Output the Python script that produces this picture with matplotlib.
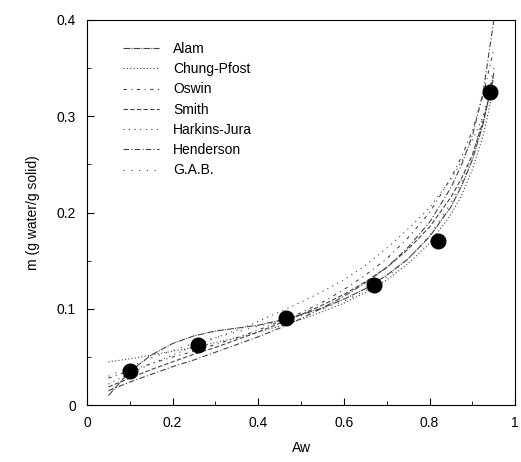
import matplotlib
matplotlib.use('Agg')
import matplotlib.pyplot as plt

# Experimental points
aw_exp = [0.10, 0.26, 0.465, 0.67, 0.82, 0.94]
m_exp = [0.035, 0.062, 0.091, 0.125, 0.170, 0.325]

# Model curves
aw_fit = [0.05, 0.10, 0.15, 0.20, 0.25, 0.30, 0.35, 0.40, 0.45, 0.50, 0.55,
          0.60, 0.65, 0.70, 0.75, 0.80, 0.85, 0.875, 0.90, 0.925, 0.95]
m_alam = [.010, .035, .052, .064, .072, .077, .080, .083, .088, .094, .101,
          .110, .121, .135, .152, .175, .206, .228, .255, .292, .345]
m_chung = [.045, .048, .052, .056, .060, .065, .070, .076, .082, .089, .097,
           .106, .117, .130, .147, .168, .198, .218, .245, .280, .330]
m_oswin = [.028, .036, .043, .050, .056, .063, .070, .078, .087, .096, .107,
           .120, .135, .152, .174, .200, .236, .258, .285, .322, .370]
m_smith = [.019, .028, .037, .045, .053, .060, .068, .076, .085, .094, .104,
           .115, .128, .143, .162, .185, .216, .236, .260, .295, .340]
m_harkins = [.022, .033, .043, .052, .061, .070, .078, .087, .097, .107, .118,
             .130, .145, .163, .183, .205, .235, .253, .275, .300, .330]
m_henderson = [.015, .024, .032, .040, .047, .055, .063, .071, .080, .090, .101,
               .113, .127, .143, .164, .190, .226, .250, .280, .325, .400]
m_gab = [.030, .040, .049, .057, .064, .070, .076, .082, .087, .093, .100,
         .108, .119, .133, .152, .176, .210, .232, .260, .300, .350]

names = ['Alam', 'Chung-Pfost', 'Oswin', 'Smith', 'Harkins-Jura', 'Henderson', 'G.A.B.']
curves = [m_alam, m_chung, m_oswin, m_smith, m_harkins, m_henderson, m_gab]
styles = [(0, (6, 1, 1, 1)), (0, (1, 2)), (0, (3, 4, 1, 4)), (0, (4, 2)),
          (0, (1, 4)), (0, (5, 2, 1, 2)), (0, (1, 6))]

x_ticks = [0, 0.2, 0.4, 0.6, 0.8, 1.0]
x_labels = ['0', '0.2', '0.4', '0.6', '0.8', '1']
y_ticks = [0, 0.1, 0.2, 0.3, 0.4]
y_labels = ['0', '0.1', '0.2', '0.3', '0.4']

plt.rcParams['font.family'] = ['Liberation Sans', 'DejaVu Sans']

fig = plt.figure(figsize=(5.21, 4.62), dpi=100)
ax = fig.add_axes([0.167, 0.123, 0.822, 0.834])

for name, m, ls in zip(names, curves, styles):
    ax.plot(aw_fit, m, linestyle=ls, color='#444444', linewidth=0.8, label=name)

ax.plot(aw_exp, m_exp, 'o', color='black', markersize=10.5, zorder=5)

ax.set_xlim(0, 1)
ax.set_ylim(0, 0.4)
ax.set_xticks(x_ticks, x_labels)
ax.set_yticks(y_ticks, y_labels)
ax.set_xticks([0.1, 0.3, 0.5, 0.7, 0.9], minor=True)
ax.set_yticks([0.05, 0.15, 0.25, 0.35], minor=True)
ax.tick_params(which='both', direction='in', labelsize=10, pad=8)
ax.tick_params(which='major', length=5)
ax.tick_params(which='minor', length=3)
for s in ax.spines.values():
    s.set_linewidth(0.8)

ax.set_xlabel('Aw', fontsize=10, labelpad=8)
ax.set_ylabel('m (g water/g solid)', fontsize=10, labelpad=12)

ax.legend(loc='upper left', bbox_to_anchor=(0.055, 0.975), frameon=False,
          fontsize=10, handlelength=2.6, labelspacing=0.45, handletextpad=1.0)

fig.savefig('out.png', dpi=100)
